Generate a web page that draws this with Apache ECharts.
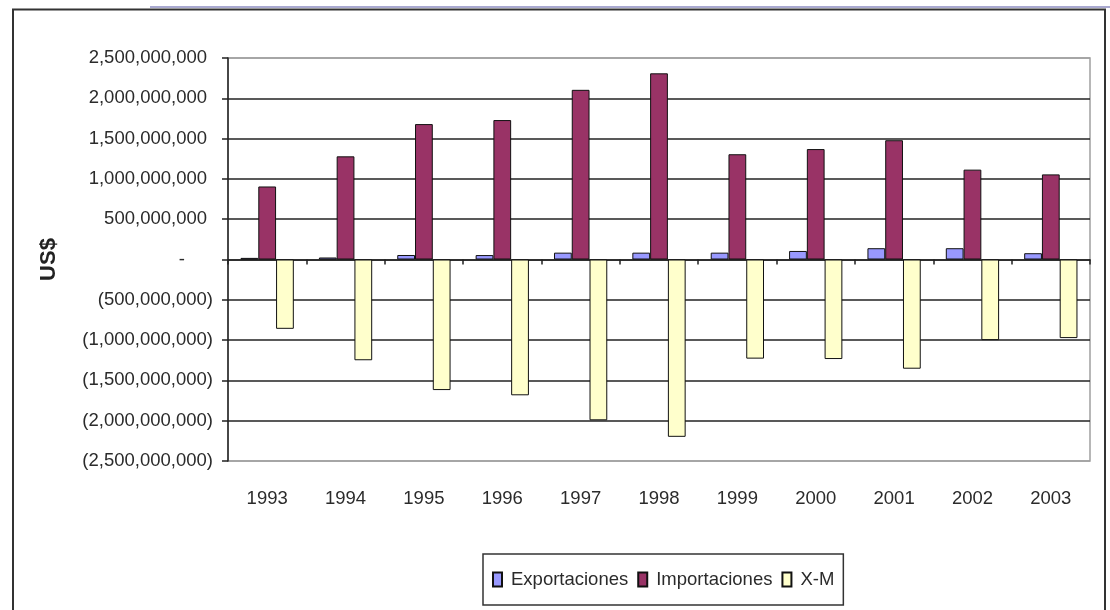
<!DOCTYPE html>
<html>
<head>
<meta charset="utf-8">
<script src="https://cdn.jsdelivr.net/npm/echarts@6/dist/echarts.min.js"></script>
<style>
  html, body { margin: 0; padding: 0; background: #ffffff; }
  #chart { width: 1110px; height: 610px; }
</style>
</head>
<body>
<div id="chart"></div>
<script>
// Trade balance 1993-2003, US$
const years = ['1993', '1994', '1995', '1996', '1997', '1998', '1999', '2000', '2001', '2002', '2003'];
const exportaciones = [20e6, 25e6, 56e6, 55e6, 85e6, 85e6, 85e6, 106e6, 140e6, 140e6, 78e6];
const importaciones = [906e6, 1280e6, 1680e6, 1730e6, 2105e6, 2310e6, 1306e6, 1370e6, 1480e6, 1115e6, 1056e6];
const balanza = [-860e6, -1250e6, -1620e6, -1685e6, -1995e6, -2200e6, -1230e6, -1235e6, -1355e6, -1000e6, -975e6];
const seriesNames = ['Exportaciones', 'Importaciones', 'X-M'];
const yMin = -2500000000, yMax = 2500000000, yStep = 500000000;

const FONT = '"Liberation Sans", Arial, sans-serif';
const TXT = '#2b2b2b';

function withCommas(n) {
  return Math.round(n).toString().replace(/\B(?=(\d{3})+(?!\d))/g, ',');
}
// accounting style: negatives in parentheses, zero as a dash
function accounting(v) {
  if (v === 0) return '{z|-}';
  if (v < 0) return '(' + withCommas(-v) + ')';
  return '{p|' + withCommas(v) + '}';
}

// outer lines of the y grid are grey (plot border), inner ones dark
const nLines = Math.round((yMax - yMin) / yStep) + 1;
const gridColors = [];
for (let i = 0; i < nLines; i++) gridColors.push(i === 0 || i === nLines - 1 ? '#a0a0a0' : '#222222');

const barBorder = { borderColor: '#111111', borderWidth: 1 };

const chart = echarts.init(document.getElementById('chart'), null, { renderer: 'canvas' });
chart.setOption({
  backgroundColor: '#ffffff',
  animation: false,
  textStyle: { fontFamily: FONT },
  grid: {
    left: 228, right: 20, top: 58, bottom: 149,
    show: true, borderColor: '#a0a0a0', borderWidth: 1.5, backgroundColor: 'transparent'
  },
  legend: {
    data: seriesNames,
    left: 483, top: 554,
    padding: [16, 9, 16, 9],
    backgroundColor: '#ffffff',
    borderColor: '#333333', borderWidth: 1.5, borderRadius: 0,
    itemWidth: 9, itemHeight: 14, itemGap: 9,
    icon: 'rect',
    textStyle: { fontFamily: FONT, fontSize: 18.5, color: TXT, padding: [0, 0, 0, 4] }
  },
  xAxis: [
    {
      type: 'category', data: years, position: 'bottom',
      axisLine: { onZero: true, lineStyle: { color: '#222222', width: 1.5 } },
      axisTick: { show: true, length: 5, lineStyle: { color: '#222222', width: 1.5 } },
      axisLabel: { show: false },
      splitLine: { show: false }
    },
    {
      type: 'category', data: years, position: 'bottom',
      axisLine: { show: false, onZero: false },
      axisTick: { show: false },
      axisLabel: { show: true, margin: 28, fontFamily: FONT, fontSize: 18.5, color: TXT },
      splitLine: { show: false }
    }
  ],
  yAxis: {
    type: 'value', min: yMin, max: yMax, interval: yStep,
    name: 'US$', nameLocation: 'middle', nameRotate: 90, nameGap: 168,
    nameTextStyle: { fontFamily: FONT, fontSize: 22, fontWeight: 'bold', color: '#222222' },
    axisLine: { show: true, lineStyle: { color: '#222222', width: 1.5 } },
    axisTick: { show: true, length: 6, lineStyle: { color: '#222222', width: 1.5 } },
    axisLabel: {
      margin: 15, fontFamily: FONT, fontSize: 18.5, color: TXT,
      formatter: accounting,
      rich: {
        p: { fontFamily: FONT, fontSize: 18.5, color: TXT, padding: [0, 6, 0, 0] },
        z: { fontFamily: FONT, fontSize: 18.5, color: TXT, padding: [0, 28, 0, 0] }
      }
    },
    splitLine: { show: true, lineStyle: { color: gridColors, width: 1.5 } }
  },
  series: [
    { name: seriesNames[0], type: 'bar', data: exportaciones, barGap: '0%', barCategoryGap: '32%',
      itemStyle: Object.assign({ color: '#9999ff' }, barBorder) },
    { name: seriesNames[1], type: 'bar', data: importaciones, barGap: '0%', barCategoryGap: '32%',
      itemStyle: Object.assign({ color: '#993366' }, barBorder) },
    { name: seriesNames[2], type: 'bar', data: balanza, barGap: '0%', barCategoryGap: '32%',
      itemStyle: Object.assign({ color: '#ffffcc' }, barBorder) }
  ],
  graphic: [
    { type: 'line', silent: true, shape: { x1: 150, y1: 7, x2: 1110, y2: 7 },
      style: { stroke: '#8c8cc0', lineWidth: 1.5 } },
    { type: 'rect', silent: true, shape: { x: 13, y: 9.5, width: 1092, height: 640 },
      style: { fill: 'none', stroke: '#333333', lineWidth: 2 } }
  ]
});
</script>
</body>
</html>
